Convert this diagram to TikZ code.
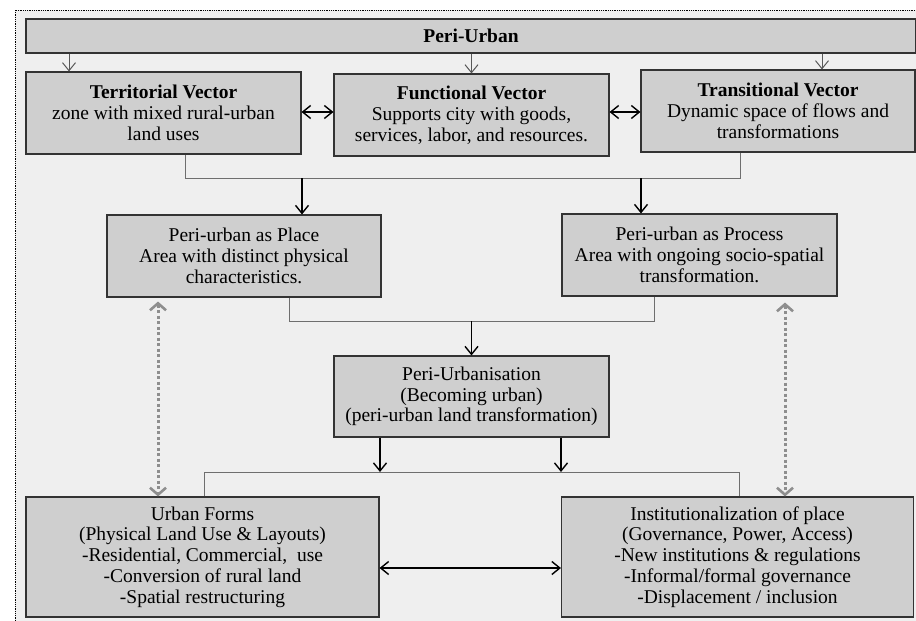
\documentclass[tikz,border=0pt]{standalone}
\usepackage{fontspec}
\setmainfont{Liberation Serif}
\usetikzlibrary{arrows.meta}

\definecolor{boxfill}{HTML}{CFCFCF}
\definecolor{panel}{HTML}{EFEFEF}
\definecolor{boxline}{HTML}{333333}
\definecolor{linkgray}{HTML}{6E6E6E}
\definecolor{dotgray}{HTML}{8E8E8E}

\tikzset{
  box/.style={draw=boxline, line width=1.1pt, fill=boxfill, inner sep=0pt,
    align=center, font=\fontsize{19.5}{20.8}\selectfont},
  feed/.style={draw=linkgray!80!black, line width=1pt, -{Straight Barb[length=8pt,width=13pt]}},
  link/.style={draw=linkgray, line width=1pt},
  flow/.style={draw=black, line width=1.4pt, -{Straight Barb[length=8pt,width=13pt]}},
  both/.style={draw=black, line width=1.4pt,
    {Straight Barb[length=8pt,width=13pt]}-{Straight Barb[length=8pt,width=13pt]}},
  dotlink/.style={draw=dotgray, line width=3pt, dash pattern=on 3pt off 2.5pt,
    {Straight Barb[length=7pt,width=16pt,line width=2.6pt]}-{Straight Barb[length=7pt,width=16pt,line width=2.6pt]}},
}

\begin{document}
\begin{tikzpicture}[x=1pt, y=-1pt]
\useasboundingbox (0,0) rectangle (916,621);

% Background panel with dotted frame
\fill[panel] (15,10) rectangle (916,621);
\draw[densely dotted, line width=0.8pt] (15,621) -- (15,10) -- (916,10);

% Top bar
\node[box, minimum width=890pt, minimum height=34pt,
  font=\bfseries\fontsize{19.5}{20.8}\selectfont] (bar) at (471,36) {Peri-Urban};

% Three vectors
\node[box, minimum width=275pt, minimum height=82pt] (terr) at (163.5,113)
  {\textbf{Territorial Vector}\\zone with mixed rural-urban\\land uses};
\node[box, minimum width=275pt, minimum height=82pt] (func) at (471.5,115)
  {\textbf{Functional Vector}\\Supports city with goods,\\services, labor, and resources.};
\node[box, minimum width=274pt, minimum height=82pt] (trans) at (778,111)
  {\textbf{Transitional Vector}\\Dynamic space of flows and\\transformations};

% Place and process
\node[box, minimum width=274pt, minimum height=82pt] (place) at (244,256)
  {Peri-urban as Place\\Area with distinct physical\\characteristics.};
\node[box, minimum width=275pt, minimum height=82pt] (proc) at (699.5,255)
  {Peri-urban as Process\\Area with ongoing socio-spatial\\transformation.};

% Peri-urbanisation
\node[box, minimum width=275pt, minimum height=81pt] (puz) at (471.5,396.5)
  {Peri-Urbanisation\\(Becoming urban)\\(peri-urban land transformation)};

% Outcomes
\node[box, minimum width=353pt, minimum height=120pt] (forms) at (202.5,557)
  {Urban Forms\\(Physical Land Use \& Layouts)\\-Residential, Commercial,\ \ use\\-Conversion of rural land\\-Spatial restructuring};
\node[box, minimum width=352pt, minimum height=120pt] (inst) at (737.5,557)
  {Institutionalization of place\\(Governance, Power, Access)\\-New institutions \& regulations\\-Informal/formal governance\\-Displacement / inclusion};

% Feeds from the top bar
\coordinate (t1) at (69,0);
\coordinate (t3) at (822,0);
\draw[feed] (t1 |- bar.south) -- (t1 |- terr.north);
\draw[feed] (func.north |- bar.south) -- (func.north);
\draw[feed] (t3 |- bar.south) -- (t3 |- trans.north);

% Links between vectors
\coordinate (m1) at (0,112);
\draw[both] (terr.east |- m1) -- (func.west |- m1);
\draw[both] (func.east |- m1) -- (trans.west |- m1);

% Vectors to place and process
\coordinate (j1) at (185,178);
\coordinate (j2) at (740,178);
\draw[link] (j1 |- terr.south) -- (j1) -- (j2) -- (j2 |- trans.south);
\coordinate (a1) at (302,178);
\coordinate (a2) at (641,178);
\draw[flow] (a1) -- (a1 |- place.north);
\draw[flow] (a2) -- (a2 |- proc.north);

% Place and process to peri-urbanisation
\coordinate (j3) at (289,321);
\coordinate (j4) at (654,321);
\draw[link] (j3 |- place.south) -- (j3) -- (j4) -- (j4 |- proc.south);
\draw[flow] (puz.north |- j3) -- (puz.north);

% Peri-urbanisation to outcomes
\coordinate (b1) at (380,472);
\coordinate (b2) at (561,472);
\coordinate (j5) at (204,472);
\coordinate (j6) at (739,472);
\draw[flow] (b1 |- puz.south) -- (b1);
\draw[flow] (b2 |- puz.south) -- (b2);
\draw[link] (j5 |- forms.north) -- (j5) -- (j6) -- (j6 |- inst.north);

% Link between outcomes
\coordinate (m2) at (0,568);
\draw[both] (forms.east |- m2) -- (inst.west |- m2);

% Dotted relations
\coordinate (d1) at (158,0);
\coordinate (d2) at (785,0);
\draw[dotlink] (d1 |- place.south) ++(0,4) -- (d1 |- forms.north);
\draw[dotlink] (d2 |- proc.south) ++(0,6) -- (d2 |- inst.north);

\end{tikzpicture}
\end{document}
